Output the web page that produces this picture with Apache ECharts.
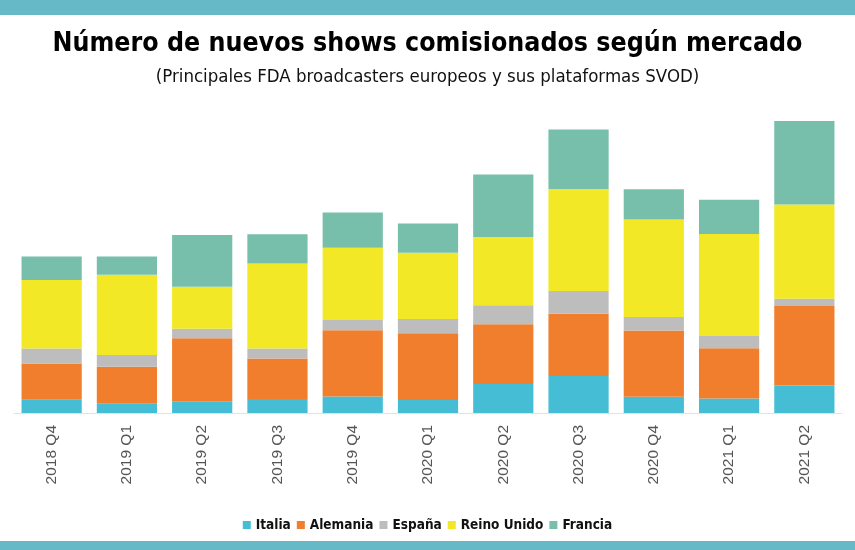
<!DOCTYPE html>
<html lang="es">
<head>
    <meta charset="UTF-8">
    <title>Número de nuevos shows comisionados según mercado</title>
    <style>
        html, body { margin: 0; padding: 0; background: #ffffff; }
        #chart { width: 855px; height: 550px; }
    </style>
    <script src="https://cdn.jsdelivr.net/npm/echarts@6/dist/echarts.min.js"></script>
</head>
<body>
<div id="chart"></div>
<script>
// categorías (trimestres)
var trimestres = ['2018 Q4', '2019 Q1', '2019 Q2', '2019 Q3', '2019 Q4', '2020 Q1',
                  '2020 Q2', '2020 Q3', '2020 Q4', '2021 Q1', '2021 Q2'];

// valores estimados por mercado
var italia     = [4.4, 3.1, 3.9, 4.7, 5.5, 4.3, 9.7, 12.3, 5.4, 4.8, 9.2];
var alemania   = [12.1, 12.3, 21.0, 13.5, 22.1, 22.3, 19.9, 20.8, 22.1, 16.8, 26.5];
var espana     = [5.0, 3.9, 3.2, 3.3, 3.4, 4.7, 6.3, 7.6, 4.5, 4.1, 2.4];
var reinoUnido = [22.8, 26.8, 14.0, 28.3, 24.1, 22.1, 22.8, 34.0, 32.5, 34.0, 31.4];
var francia    = [7.9, 6.1, 17.2, 9.8, 11.7, 9.8, 20.8, 19.8, 10.1, 11.4, 27.8];

var nombres = ['Italia', 'Alemania', 'España', 'Reino Unido', 'Francia'];
var colores = ['#45bed5', '#f07e2d', '#bdbdbd', '#f2e826', '#77bfab'];

var chart = echarts.init(document.getElementById('chart'));

var fuenteCond = '"Liberation Sans Narrow", "DejaVu Sans Condensed", "Roboto", sans-serif';

var datos = [italia, alemania, espana, reinoUnido, francia];
var series = [];
for (var i = 0; i < datos.length; i++) {
    series.push({
        name: nombres[i],
        type: 'bar',
        stack: 'total',
        barCategoryGap: '20%',
        data: datos[i],
        itemStyle: { color: colores[i] }
    });
}

var option = {
    animation: false,
    backgroundColor: '#ffffff',
    title: [
        {
            text: 'Número de nuevos shows comisionados según mercado',
            left: 'center',
            top: 26,
            textStyle: {
                fontFamily: fuenteCond,
                fontWeight: 'bold',
                fontSize: 26.5,
                color: '#000000'
            }
        },
        {
            text: '(Principales FDA broadcasters europeos y sus plataformas SVOD)',
            left: 'center',
            top: 63,
            textStyle: {
                fontFamily: fuenteCond,
                fontWeight: 'normal',
                fontSize: 18.5,
                color: '#111111'
            }
        }
    ],
    legend: {
        data: nombres,
        bottom: 13,
        left: 'center',
        itemWidth: 8,
        itemHeight: 8,
        itemGap: 6,
        icon: 'rect',
        textStyle: {
            fontFamily: fuenteCond,
            fontWeight: 'bold',
            fontSize: 13.5,
            color: '#111111'
        }
    },
    grid: {
        left: 14,
        right: 13,
        top: 113,
        bottom: 137,
        containLabel: false
    },
    xAxis: {
        type: 'category',
        data: trimestres,
        axisLine: { lineStyle: { color: '#e2e2e2', width: 1 } },
        axisTick: { show: false },
        axisLabel: {
            rotate: 90,
            margin: 12,
            fontFamily: 'Liberation Sans, Arial, sans-serif',
            fontSize: 15.5,
            color: '#555555'
        }
    },
    yAxis: {
        type: 'value',
        min: 0,
        max: 100,
        show: false,
        splitLine: { show: false }
    },
    graphic: [
        {
            type: 'rect',
            left: 0, top: 0,
            shape: { width: 855, height: 15 },
            style: { fill: '#66b9c6' }
        },
        {
            type: 'rect',
            left: 0, top: 541,
            shape: { width: 855, height: 9 },
            style: { fill: '#66b9c6' }
        }
    ],
    series: series
};

chart.setOption(option);
</script>
</body>
</html>
